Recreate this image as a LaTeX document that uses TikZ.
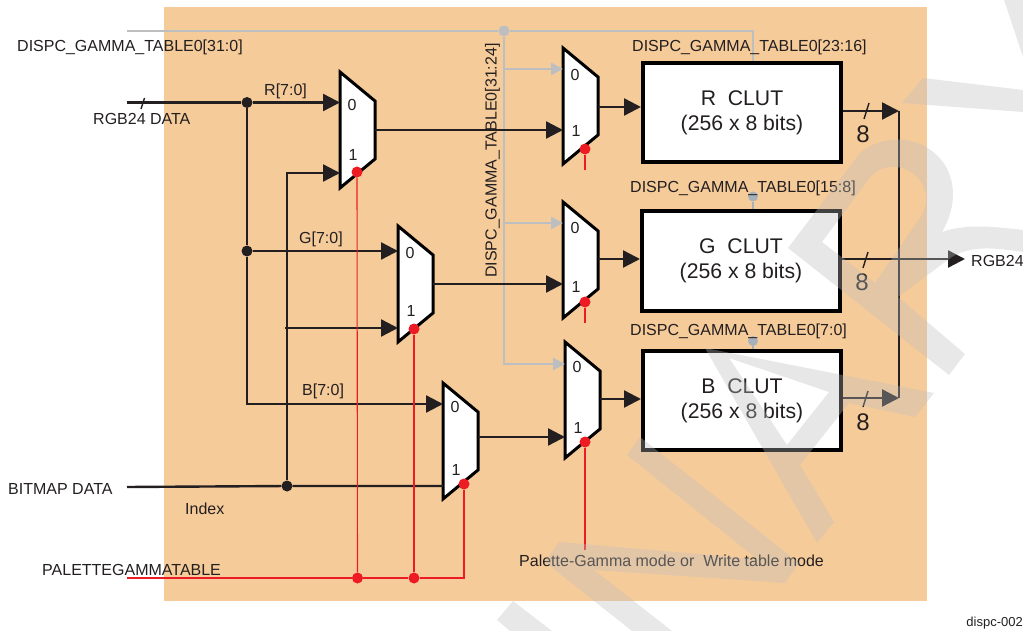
\documentclass[tikz,border=0pt]{standalone}
\usepackage{fontspec}
\setmainfont{Liberation Sans}
\usetikzlibrary{arrows.meta}
\definecolor{panel}{HTML}{F6CB9A}
\definecolor{wire}{HTML}{231F20}
\definecolor{busgray}{HTML}{BCBEC0}
\definecolor{stubgray}{HTML}{A7B1BC}
\definecolor{selred}{HTML}{ED1C24}
\definecolor{stamp}{RGB}{189,189,189}
\tikzset{
    >={Triangle[length=17pt,width=17pt]},
    wireline/.style={draw=wire,line width=2.4pt},
    busline/.style={draw=busgray,line width=2.4pt,>={Triangle[length=12pt,width=12pt]}},
    selline/.style={draw=selred,line width=1.5pt},
    muxline/.style={draw=black,fill=white,line width=3pt,line join=miter},
    clutbox/.style={draw=black,fill=white,line width=4pt,minimum width=198pt,minimum height=99pt,inner sep=0pt,align=center,text=wire,font=\fontsize{21.2}{25}\selectfont},
    lbl/.style={anchor=west,inner sep=0pt,text=wire,font=\fontsize{16}{18}\selectfont},
    digit/.style={inner sep=0pt,text=wire,font=\fontsize{16}{18}\selectfont},
    eight/.style={inner sep=0pt,text=wire,font=\fontsize{24}{26}\selectfont},
    blackdot/.style={circle,fill=wire,minimum size=11pt,inner sep=0pt},
    reddot/.style={circle,fill=selred,minimum size=11pt,inner sep=0pt},
    graydot/.style={circle,fill=busgray,minimum size=11pt,inner sep=0pt},
    stubdot/.style={circle,fill=stubgray,minimum size=10pt,inner sep=0pt},
    stampfill/.style={fill=stamp,fill opacity=.35,even odd rule}
}
\newcommand{\muxblock}[8]{%
    \draw[muxline] (#2,#3) -- ++(35,29) -- ++(0,58) -- ++(-35,29) -- cycle;
    \coordinate (#1-a) at (#2,#3+#4);
    \coordinate (#1-b) at (#2,#3+#5);
    \coordinate (#1-out) at (#2+35,#3+#6);
    \node[digit] (#1-zero) at (#2+12,#3+#7) {0};
    \node[digit] (#1-one) at (#2+13,#3+#8) {1};
}
\begin{document}
\begin{tikzpicture}[x=1pt,y=-1pt]
    \useasboundingbox (0,0) rectangle (1023,631);
    \fill[panel] (164,7) rectangle (927,601);

    \node[graydot] (bus-dot) at (504,31) {};
    \coordinate (bus-start) at (127,31);
    \coordinate (bus-end) at (753,31);
    \node[blackdot] (rgb-dot) at (247,102.5) {};
    \node[blackdot] (g-dot) at (247,251) {};
    \node[blackdot] (map-dot) at (287,486) {};
    \coordinate (rgb-start) at (127,102.5);
    \coordinate (map-start) at (127,487);
    \coordinate (b-turn) at (247,404);
    \coordinate (one-turn) at (287,173);
    \coordinate (g-one-start) at (285,328);
    \coordinate (pal-start) at (127,578);
    \coordinate (pal-turn) at (464,578);
    \coordinate (rout-r) at (899,111);
    \coordinate (rout-b) at (899,398);
    \coordinate (rgb-out) at (965,259);
    \coordinate (m-one-stub) at (585,170);
    \coordinate (m-two-stub) at (585,323);
    \coordinate (m-three-stub) at (585,550);

    \node[clutbox] (r-clut) at (742,112.5) {R\ \ CLUT\\(256 x 8 bits)};
    \node[clutbox] (g-clut) at (741,261) {G\ \ CLUT\\(256 x 8 bits)};
    \node[clutbox] (b-clut) at (742,400.5) {B\ \ CLUT\\(256 x 8 bits)};

    \muxblock{r-mux}{340}{72}{31}{101}{58}{33}{83}
    \muxblock{g-mux}{398}{226}{25}{102}{58}{27}{85}
    \muxblock{b-mux}{443}{383}{21}{104}{54}{24}{87}
    \muxblock{m-one}{563}{48}{21}{82}{59}{27}{83}
    \muxblock{m-two}{563}{202}{21}{82}{57}{26}{85}
    \muxblock{m-three}{565}{342}{22}{95}{57}{25}{86}

    \draw[busline] (bus-start) -- (bus-dot) -- (bus-end) -- (bus-end |- r-clut.north);
    \draw[busline,->] (bus-dot) |- (m-three-a);
    \draw[busline,->] (bus-dot |- m-one-a) -- (m-one-a);
    \draw[busline,->] (bus-dot |- m-two-a) -- (m-two-a);

    \node[stubdot] (g-stub) at (753,196.5) {};
    \node[stubdot] (b-stub) at (753,341) {};
    \draw[draw=stubgray,line width=1.2pt] (g-stub) -- (g-stub |- g-clut.north);
    \draw[draw=stubgray,line width=1.2pt] (b-stub) -- (b-stub |- b-clut.north);

    \draw[wireline] (rgb-start) -- (rgb-dot);
    \draw[wireline,->] (rgb-dot) -- (rgb-dot -| r-mux-a);
    \draw[wireline] (rgb-dot) -- (g-dot);
    \draw[wireline,->] (g-dot) -- (g-mux-a);
    \draw[wireline,->] (g-dot) -- (b-turn) -- (b-mux-a);
    \draw[wireline] (map-start) -- (map-dot) -- (map-dot -| b-mux-b);
    \draw[wireline,->] (map-dot) -- (one-turn) -- (r-mux-b);
    \draw[wireline,->] (g-one-start) -- (g-mux-b);

    \draw[wireline,->] (r-mux-out) -- (m-one-b);
    \draw[wireline,->] (g-mux-out) -- (m-two-b);
    \draw[wireline,->] (b-mux-out) -- (m-three-b);
    \draw[wireline,->] (m-one-out) -- (m-one-out -| r-clut.west);
    \draw[wireline,->] (m-two-out) -- (m-two-out -| g-clut.west);
    \draw[wireline,->] (m-three-out) -- (m-three-out -| b-clut.west);

    \draw[wireline,->] (rout-r -| r-clut.east) -- (rout-r);
    \draw[wireline,->] (rout-b -| b-clut.east) -- (rout-b);
    \draw[wireline] (rout-r) -- (rout-b);
    \draw[wireline,->] (rgb-out -| g-clut.east) -- (rgb-out);

    \draw[draw=wire,line width=1.4pt] (144.5,98) -- (141,109);
    \draw[draw=wire,line width=1.4pt] (869,103) -- (864,119);
    \draw[draw=wire,line width=1.4pt] (868,252) -- (863,268);
    \draw[draw=wire,line width=1.4pt] (868,391) -- (863,407);

    \node[reddot] (r-sel) at (357,172) {};
    \node[reddot] (g-sel) at (414,329) {};
    \node[reddot] (b-sel) at (464,484) {};
    \node[reddot] (m-one-sel) at (585,149) {};
    \node[reddot] (m-two-sel) at (585,302) {};
    \node[reddot] (m-three-sel) at (585,442) {};
    \node[reddot] (r-join) at (357.5,578) {};
    \node[reddot] (g-join) at (414,578) {};
    \draw[selline] (pal-start) -- (r-join) -- (g-join) -- (pal-turn) -- (b-sel);
    \draw[selline,line width=1.1pt] (r-join) -- (r-sel);
    \draw[selline] (g-join) -- (g-sel);
    \draw[selline] (m-one-sel) -- (m-one-stub);
    \draw[selline] (m-two-sel) -- (m-two-stub);
    \draw[selline] (m-three-sel) -- (m-three-stub);

    \node[lbl] (bus-lbl) at (17,47) {DISPC\_GAMMA\_TABLE0[31:0]};
    \node[lbl] (rgb-lbl) at (93,118.5) {RGB24 DATA};
    \node[lbl] (map-lbl) at (8,488.5) {BITMAP DATA};
    \node[lbl] (index-lbl) at (185,509) {Index};
    \node[lbl] (pal-lbl) at (42,569.5) {PALETTEGAMMATABLE};
    \node[lbl] (r-lbl) at (264,91) {R[7:0]};
    \node[lbl] (g-lbl) at (299,239.5) {G[7:0]};
    \node[lbl] (b-lbl) at (302,391.5) {B[7:0]};
    \node[lbl,rotate=90] (vert-lbl) at (492.5,278) {DISPC\_GAMMA\_TABLE0[31:24]};
    \node[lbl] (r-tbl) at (632,47.5) {DISPC\_GAMMA\_TABLE0[23:16]};
    \node[lbl] (g-tbl) at (630,188.5) {DISPC\_GAMMA\_TABLE0[15:8]};
    \node[lbl] (b-tbl) at (630,331.5) {DISPC\_GAMMA\_TABLE0[7:0]};
    \node[lbl] (mode-lbl) at (519,561) {Palette-Gamma mode or\ \ Write table mode};
    \node[lbl] (out-lbl) at (971,260.5) {RGB24};
    \node[lbl,anchor=east,font=\fontsize{13}{15}\selectfont] (fig-lbl) at (1023,623) {dispc-002};
    \node[eight] (r-eight) at (863,134) {8};
    \node[eight] (g-eight) at (862,282) {8};
    \node[eight] (b-eight) at (863,422) {8};

    \fill[stampfill] (1004,0) -- (1023,0) -- (1023,57) -- cycle;
    \fill[stampfill] (923,78) -- (1023,90) -- (1023,112) -- (902,103) -- cycle;
    \fill[stampfill] (788,248) -- (860,153) .. controls (885,132) and (925,135) .. (945,165)
        .. controls (957,185) and (955,210) .. (942,232) .. controls (965,224) and (990,226) .. (1023,230)
        -- (1023,252) .. controls (990,247) and (965,245) .. (945,262) -- (898,297)
        -- (965,354) -- (949,375) -- cycle
        (822,242) -- (875,283) -- (922,215) .. controls (935,190) and (915,165) .. (890,167)
        .. controls (880,168) and (875,172) .. (868,180) -- cycle;
    \fill[stampfill] (705,348) -- (934,393) -- (915,417) -- (849,403) -- (800,465) -- (834,522) -- (817,543) -- cycle
        (729,358) -- (829,392) -- (787,445) -- cycle;
    \fill[stampfill] (640,437) -- (799,563) -- (785,583) -- (594,570) -- (672,631) -- (632,631)
        -- (545,562) -- (559,542) -- (757,559) -- (627,455) -- cycle;
    \fill[stampfill] (513,601) -- (497,620) -- (510,631) -- (552,631) -- cycle;
\end{tikzpicture}
\end{document}
